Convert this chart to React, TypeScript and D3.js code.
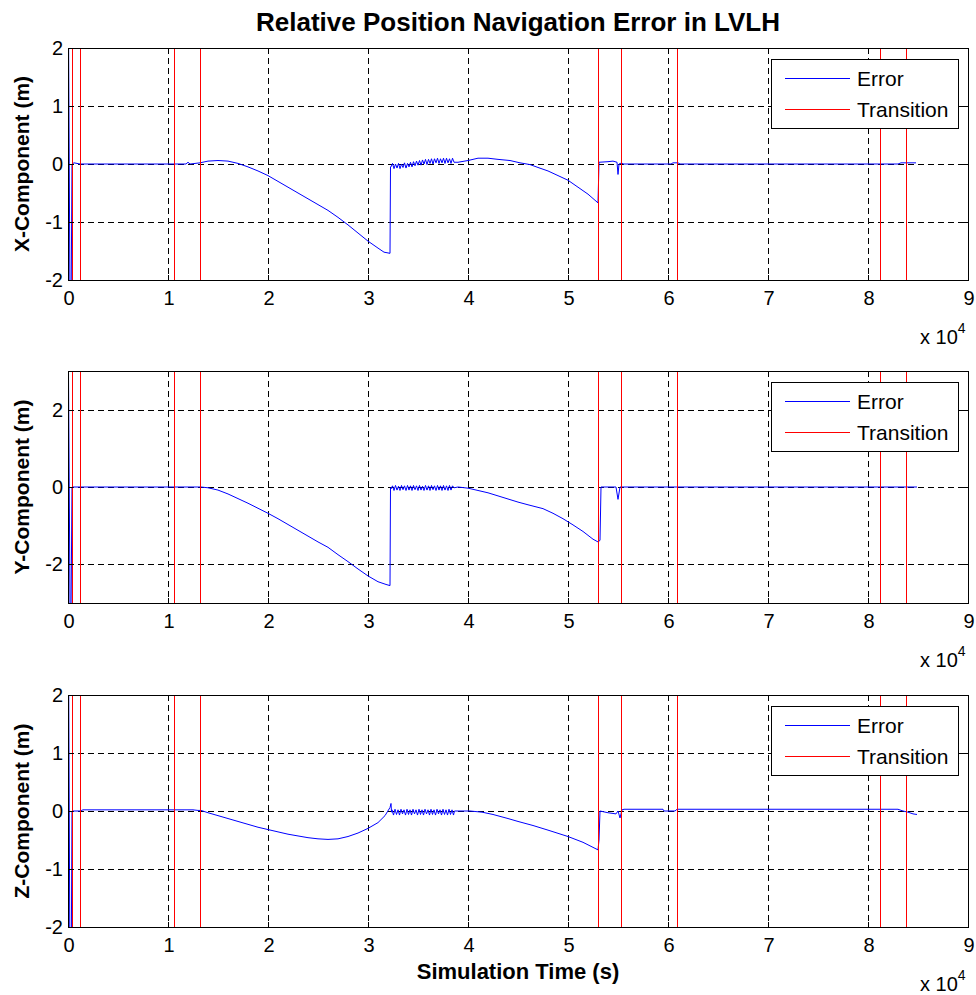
import * as d3 from "d3";
import { useEffect, useRef } from "react";

// transition times (s)
const transitions = [430, 1230, 10600, 13200, 52950, 55250, 60850, 81200, 83750];
const xTicks = [0, 10000, 20000, 30000, 40000, 50000, 60000, 70000, 80000, 90000];

const xNoise = [
  [32300, -0.05], [32450, 0.01], [32600, -0.08], [32750, 0.0], [32900, -0.07], [33050, 0.01],
  [33200, -0.08], [33350, 0.0], [33500, -0.06], [33650, 0.02], [33800, -0.07], [33950, 0.01],
  [34100, -0.05], [34250, 0.03], [34400, -0.05], [34550, 0.04], [34700, -0.03], [34850, 0.05],
  [35000, -0.02], [35150, 0.06], [35300, -0.02], [35450, 0.07], [35600, 0.0], [35750, 0.08],
  [35900, -0.01], [36050, 0.08], [36200, 0.01], [36350, 0.09], [36500, 0.0], [36650, 0.09],
  [36800, 0.02], [36950, 0.1], [37100, 0.01], [37250, 0.09], [37400, 0.02], [37550, 0.1],
  [37700, 0.01], [37850, 0.1], [38000, 0.02], [38150, 0.09], [38300, 0.01], [38450, 0.1],
  [38600, 0.03],
];

const xError = [
  [0, 4], [250, -4], [400, 0], [600, 0.02], [1200, 0], [11800, 0], [12000, 0.03], [12200, 0],
  [13200, 0.02], [14000, 0.05], [15000, 0.06], [16000, 0.05], [17000, 0.01], [18000, -0.05],
  [19000, -0.12], [20000, -0.2], [21000, -0.3], [22000, -0.4], [23000, -0.5], [24000, -0.6],
  [25000, -0.7], [26000, -0.8], [27000, -0.92], [28000, -1.05], [29000, -1.19], [30000, -1.33],
  [31000, -1.45], [31600, -1.52], [32200, -1.54], [32250, -0.05],
  ...xNoise,
  [39000, 0.03], [40000, 0.06], [41000, 0.1], [42000, 0.1], [43000, 0.08], [44200, 0.06],
  [45200, 0.02], [46200, -0.01], [47000, -0.06], [48000, -0.12], [49000, -0.2], [50000, -0.28],
  [51000, -0.4], [52000, -0.52], [53000, -0.67], [53100, 0.03], [54000, 0.04], [54500, 0.05],
  [54900, 0.03], [55000, -0.18], [55100, 0.0], [55400, 0.02], [55500, 0], [60300, 0],
  [60500, 0.02], [61000, 0.02], [61200, 0], [83000, 0], [83300, 0.02], [84800, 0.02],
];

const yNoise = [
  [32300, -0.05], [32450, 0.03], [32600, -0.09], [32750, 0.04], [32900, -0.08], [33050, 0.02],
  [33200, -0.09], [33350, 0.04], [33500, -0.07], [33650, 0.03], [33800, -0.09], [33950, 0.04],
  [34100, -0.08], [34250, 0.03], [34400, -0.09], [34550, 0.04], [34700, -0.07], [34850, 0.03],
  [35000, -0.09], [35150, 0.04], [35300, -0.08], [35450, 0.02], [35600, -0.09], [35750, 0.04],
  [35900, -0.08], [36050, 0.03], [36200, -0.09], [36350, 0.04], [36500, -0.07], [36650, 0.03],
  [36800, -0.09], [36950, 0.04], [37100, -0.08], [37250, 0.03], [37400, -0.09], [37550, 0.04],
  [37700, -0.08], [37850, 0.03], [38000, -0.09], [38150, 0.04], [38300, -0.08], [38450, 0.03],
  [38600, -0.02],
];

const yError = [
  [0, 5], [250, -5], [400, 0], [13300, 0], [14000, -0.02], [15000, -0.08], [16000, -0.18],
  [17000, -0.3], [18000, -0.42], [19000, -0.55], [20000, -0.68], [21000, -0.82], [22000, -0.97],
  [23000, -1.12], [24000, -1.27], [25000, -1.42], [26000, -1.56], [27000, -1.75], [28000, -1.93],
  [29000, -2.12], [30000, -2.3], [31000, -2.45], [31800, -2.52], [32200, -2.55], [32250, -0.02],
  ...yNoise,
  [39000, 0], [40000, -0.03], [41000, -0.09], [42000, -0.15], [43000, -0.23], [44000, -0.31],
  [45000, -0.39], [46000, -0.46], [47500, -0.56], [48500, -0.68], [49500, -0.82], [50500, -0.98],
  [51500, -1.15], [52500, -1.35], [53000, -1.42], [53200, -1.38], [53300, 0], [54800, 0],
  [55000, -0.32], [55200, 0], [84900, 0],
];

const zNoise = [
  [32400, 0.02], [32550, -0.07], [32700, 0.03], [32850, -0.06], [33000, 0.02], [33150, -0.07],
  [33300, 0.03], [33450, -0.05], [33600, 0.02], [33750, -0.07], [33900, 0.03], [34050, -0.06],
  [34200, 0.02], [34350, -0.07], [34500, 0.03], [34650, -0.05], [34800, 0.02], [34950, -0.07],
  [35100, 0.03], [35250, -0.06], [35400, 0.02], [35550, -0.07], [35700, 0.03], [35850, -0.05],
  [36000, 0.02], [36150, -0.07], [36300, 0.03], [36450, -0.06], [36600, 0.02], [36750, -0.07],
  [36900, 0.03], [37050, -0.05], [37200, 0.02], [37350, -0.07], [37500, 0.03], [37650, -0.06],
  [37800, 0.02], [37950, -0.07], [38100, 0.03], [38250, -0.06], [38400, 0.02], [38550, -0.07],
  [38650, 0.0],
];

const zError = [
  [0, 5], [250, -5], [400, 0], [1200, 0], [1500, 0.02], [12500, 0.02], [13000, 0.01],
  [13300, 0.01], [14000, -0.03], [15000, -0.08], [16000, -0.13], [17000, -0.18], [18000, -0.23],
  [19000, -0.28], [20000, -0.32], [21000, -0.36], [22000, -0.4], [23000, -0.43], [24000, -0.46],
  [25000, -0.48], [26000, -0.49], [27000, -0.48], [28000, -0.44], [29000, -0.38], [30000, -0.3],
  [31000, -0.2], [31700, -0.08], [32200, 0.06], [32300, 0.13], [32350, -0.02],
  ...zNoise,
  [39000, 0], [40200, 0], [41400, -0.02], [42500, -0.06], [44000, -0.13], [45000, -0.18],
  [46500, -0.25], [48000, -0.33], [50000, -0.44], [51500, -0.54], [53000, -0.67], [53100, -0.5],
  [53200, 0.0], [54000, -0.03], [54800, -0.05], [55000, 0.0], [55200, -0.12], [55400, 0.02],
  [55600, 0.03], [59500, 0.03], [59600, 0.0], [60700, 0.0], [60900, 0.03], [83000, 0.03],
  [83500, 0.0], [84000, -0.02], [84500, -0.05], [84900, -0.06],
];

const panels = [
  { label: "X-Component (m)", domain: [-2, 2], ticks: [-2, -1, 0, 1, 2], data: xError },
  { label: "Y-Component (m)", domain: [-3, 3], ticks: [-2, 0, 2], data: yError },
  { label: "Z-Component (m)", domain: [-2, 2], ticks: [-2, -1, 0, 1, 2], data: zError },
];

const FONT = "'Liberation Sans', Arial, Helvetica, sans-serif";

const App = () => {
  const ref = useRef<HTMLDivElement>(null);

  useEffect(() => {
    const root = d3.select(ref.current);
    root.selectAll("*").remove();
    const svg = root
      .append("svg")
      .attr("width", 976)
      .attr("height", 995)
      .attr("style", "background: white; display: block; position: absolute; left: 0; top: 0")
      .style("font-family", FONT);

    const left = 68;
    const right = 968;
    const h = 232;
    const tops = [48, 371, 695];

    const x = d3.scaleLinear().domain([0, 90000]).range([left, right]);

    svg
      .append("text")
      .attr("x", (left + right) / 2)
      .attr("y", 31)
      .attr("text-anchor", "middle")
      .attr("font-size", 26)
      .attr("font-weight", "bold")
      .text("Relative Position Navigation Error in LVLH");

    panels.forEach((p, i) => {
      const top = tops[i];
      const bottom = top + h;
      const y = d3.scaleLinear().domain(p.domain).range([bottom, top]);
      const g = svg.append("g");

      const clipId = `clip${i}`;
      g.append("clipPath")
        .attr("id", clipId)
        .append("rect")
        .attr("x", left)
        .attr("y", top)
        .attr("width", right - left)
        .attr("height", h);

      // grid
      const grid = g.append("g").attr("stroke", "#000").attr("stroke-width", 1).attr("stroke-dasharray", "6,4");
      xTicks.slice(1, -1).forEach((t) => {
        grid.append("line")
          .attr("x1", Math.round(x(t)) + 0.5).attr("x2", Math.round(x(t)) + 0.5)
          .attr("y1", top).attr("y2", bottom);
      });
      p.ticks.forEach((t) => {
        if (t === p.domain[0] || t === p.domain[1]) return;
        grid.append("line")
          .attr("x1", left).attr("x2", right)
          .attr("y1", Math.round(y(t)) + 0.5).attr("y2", Math.round(y(t)) + 0.5);
      });

      const plot = g.append("g").attr("clip-path", `url(#${clipId})`);

      // error line
      const line = d3.line<number[]>().x((d) => x(d[0])).y((d) => y(d[1]));
      plot.append("path")
        .datum(p.data)
        .attr("fill", "none")
        .attr("stroke", "#0000ff")
        .attr("stroke-width", 1)
        .attr("d", line);

      // transitions
      plot.selectAll("line.tr")
        .data(transitions)
        .enter()
        .append("line")
        .attr("class", "tr")
        .attr("x1", (d) => Math.round(x(d)) + 0.5).attr("x2", (d) => Math.round(x(d)) + 0.5)
        .attr("y1", top).attr("y2", bottom)
        .attr("stroke", "#ff0000")
        .attr("stroke-width", 1);

      // frame
      g.append("rect")
        .attr("x", left + 0.5).attr("y", top + 0.5)
        .attr("width", right - left).attr("height", h)
        .attr("fill", "none").attr("stroke", "#000").attr("stroke-width", 1);

      // ticks
      const tk = g.append("g").attr("stroke", "#000");
      xTicks.forEach((t) => {
        const px = Math.round(x(t)) + 0.5;
        tk.append("line").attr("x1", px).attr("x2", px).attr("y1", bottom).attr("y2", bottom - 5);
        tk.append("line").attr("x1", px).attr("x2", px).attr("y1", top).attr("y2", top + 5);
      });
      p.ticks.forEach((t) => {
        const py = Math.round(y(t)) + 0.5;
        tk.append("line").attr("x1", left).attr("x2", left + 5).attr("y1", py).attr("y2", py);
        tk.append("line").attr("x1", right).attr("x2", right - 5).attr("y1", py).attr("y2", py);
      });

      // tick labels
      xTicks.forEach((t) => {
        g.append("text")
          .attr("x", x(t) + 1)
          .attr("y", bottom + 25)
          .attr("text-anchor", "middle")
          .attr("font-size", 20)
          .text(d3.format("d")(t / 10000));
      });
      p.ticks.forEach((t) => {
        g.append("text")
          .attr("x", left - 5)
          .attr("y", y(t) + 7)
          .attr("text-anchor", "end")
          .attr("font-size", 20)
          .text(t);
      });

      // x 10^4
      const ex = g.append("text").attr("x", 920).attr("y", bottom + 64).attr("font-size", 20);
      ex.append("tspan").text("x 10");
      ex.append("tspan").attr("dy", -11).attr("font-size", 14).text("4");

      // y label
      g.append("text")
        .attr("transform", `translate(29,${(top + bottom) / 2}) rotate(-90)`)
        .attr("text-anchor", "middle")
        .attr("font-size", 21)
        .attr("font-weight", "bold")
        .text(p.label);

      // legend
      const lx = 771;
      const ly = top + 11;
      const lg = g.append("g");
      lg.append("rect")
        .attr("x", lx + 0.5).attr("y", ly + 0.5)
        .attr("width", 187).attr("height", 69)
        .attr("fill", "#fff").attr("stroke", "#000");
      [
        { name: "Error", color: "#0000ff", dy: 19 },
        { name: "Transition", color: "#ff0000", dy: 50 },
      ].forEach((it) => {
        lg.append("line")
          .attr("x1", lx + 14).attr("x2", lx + 79)
          .attr("y1", ly + it.dy + 0.5).attr("y2", ly + it.dy + 0.5)
          .attr("stroke", it.color).attr("stroke-width", 1);
        lg.append("text")
          .attr("x", lx + 86).attr("y", ly + it.dy + 8)
          .attr("font-size", 21)
          .text(it.name);
      });
    });

    svg
      .append("text")
      .attr("x", (left + right) / 2)
      .attr("y", 979)
      .attr("text-anchor", "middle")
      .attr("font-size", 22)
      .attr("font-weight", "bold")
      .text("Simulation Time (s)");
  }, []);

  return <div ref={ref}></div>;
};

export default App;
